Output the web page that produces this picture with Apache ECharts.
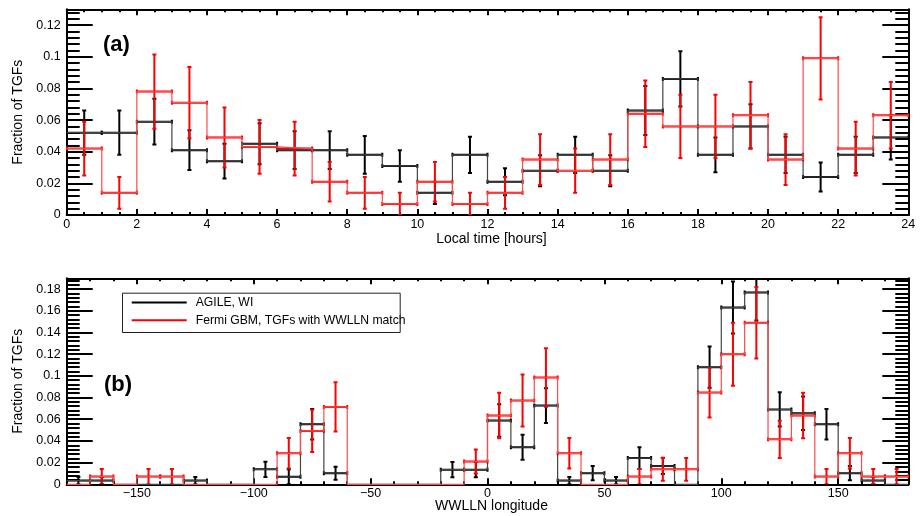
<!DOCTYPE html>
<html>
<head>
<meta charset="utf-8">
<script src="https://cdn.jsdelivr.net/npm/echarts@6/dist/echarts.min.js"></script>
<style>
  html, body { margin: 0; padding: 0; background: #fff; }
  #chart { width: 923px; height: 516px; }
</style>
</head>
<body>
<div id="chart"></div>
<script>
// panel (a): local time, 1 h bins from 0 to 24
var hourEdges = [0,1,2,3,4,5,6,7,8,9,10,11,12,13,14,15,16,17,18,19,20,21,22,23,24];
var agileLT = [0.052,0.052,0.059,0.041,0.034,0.045,0.041,0.041,0.038,0.031,0.014,0.038,
               0.021,0.028,0.038,0.028,0.066,0.086,0.038,0.056,0.038,0.024,0.038,0.049];
var agileLTErr = [0.014,0.014,0.0145,0.0125,0.011,0.013,0.012,0.012,0.012,0.010,0.007,0.0115,
                  0.0085,0.0098,0.0115,0.0098,0.0155,0.0175,0.011,0.014,0.0115,0.0092,0.0115,0.014];
var fermiLT = [0.042,0.014,0.078,0.071,0.049,0.043,0.042,0.021,0.014,0.007,0.021,0.007,
               0.014,0.035,0.028,0.035,0.064,0.056,0.056,0.063,0.035,0.099,0.042,0.063];
var fermiLTErr = [0.017,0.010,0.0235,0.0225,0.019,0.017,0.017,0.0125,0.010,0.007,0.0125,0.007,
                  0.010,0.016,0.014,0.016,0.021,0.020,0.020,0.021,0.016,0.026,0.017,0.021];

// panel (b): WWLLN longitude, 10 deg bins from -180 to 180
var lonEdges = [-180,-170,-160,-150,-140,-130,-120,-110,-100,-90,-80,-70,-60,-50,-40,-30,-20,-10,
                0,10,20,30,40,50,60,70,80,90,100,110,120,130,140,150,160,170,180];
var agileLon = [0.0034,0.0034,0,0,0,0.0034,0,0,0.0138,0.0069,0.0554,0.0103,0,0,0,0,0.0135,0.0135,
                0.0588,0.0342,0.0726,0.0034,0.0103,0.0034,0.0242,0.0169,0,0.108,0.163,0.177,0.069,0.0655,0.0554,0.0103,0.0034,0];
var agileLonErr = [0.0034,0.0034,0,0,0,0.0034,0,0,0.007,0.0069,0.014,0.006,0,0,0,0,0.007,0.007,
                   0.015,0.0115,0.016,0.0034,0.0065,0.0034,0.010,0.0075,0,0.019,0.024,0.026,0.0158,0.0155,0.014,0.0065,0.0034,0];
var fermiLon = [0,0.0071,0,0.0071,0.0071,0,0,0,0,0.0286,0.0492,0.0714,0,0,0,0,0,0.021,
                0.0634,0.0772,0.0985,0.0286,0,0,0.0071,0.0138,0.0138,0.0846,0.120,0.149,0.0415,0.0634,0.0071,0.0286,0.0071,0.0071];
var fermiLonErr = [0,0.0071,0,0.0071,0.0071,0,0,0,0,0.014,0.0195,0.0228,0,0,0,0,0,0.011,
                   0.021,0.024,0.027,0.014,0,0,0.0071,0.0105,0.0105,0.023,0.029,0.033,0.0172,0.021,0.0071,0.014,0.0071,0.0071];

var lonMajor = [-150,-100,-50,0,50,100,150];

var nameAgile = 'AGILE, WI';
var nameFermi = 'Fermi GBM, TGFs with WWLLN match';
var FONT = 'Liberation Sans';
var LINE_ICON = 'path://M0,0 L55,0 L55,2 L0,2 Z';

function stepData(edges, vals) {
  var out = [];
  for (var i = 0; i < vals.length; i++) out.push([edges[i], vals[i]]);
  out.push([edges[edges.length - 1], vals[vals.length - 1]]);
  return out;
}

function barData(edges, vals, errs) {
  var out = [];
  for (var i = 0; i < vals.length; i++) {
    if (vals[i] > 0) out.push([edges[i], edges[i + 1], vals[i], errs[i]]);
  }
  return out;
}

// horizontal bin segment with end caps + vertical error bar with caps
function renderBars(params, api) {
  var x0 = api.value(0), x1 = api.value(1), v = api.value(2), e = api.value(3);
  var xc = (x0 + x1) / 2;
  var pL = api.coord([x0, v]);
  var pR = api.coord([x1, v]);
  var pT = api.coord([xc, v + e]);
  var pB = api.coord([xc, v - e]);
  var st = { stroke: api.visual('color'), lineWidth: 2 };
  var c = 2;
  function seg(a, b, d, f) {
    return { type: 'line', shape: { x1: a, y1: b, x2: d, y2: f }, style: st };
  }
  return {
    type: 'group',
    children: [
      seg(pL[0], pL[1], pR[0], pR[1]),
      seg(pL[0], pL[1] - c, pL[0], pL[1] + c),
      seg(pR[0], pR[1] - c, pR[0], pR[1] + c),
      seg(pT[0], pT[1], pB[0], pB[1]),
      seg(pT[0] - c, pT[1], pT[0] + c, pT[1]),
      seg(pB[0] - c, pB[1], pB[0] + c, pB[1])
    ]
  };
}

var labelStyle = { color: '#000', fontSize: 12.5, fontFamily: FONT };
var nameStyle = { color: '#000', fontSize: 14, fontFamily: FONT };
var axisLine = { show: true, onZero: false, lineStyle: { color: '#000', width: 2 } };
var noLine = { show: false, onZero: false };

function minusFmt(v) { return String(v).replace('-', '\u2212'); }

function yAxes(grid, max, position, withLabels) {
  return {
    type: 'value', gridIndex: grid, position: position,
    min: 0, max: max, interval: 0.02,
    name: withLabels ? 'Fraction of TGFs' : '',
    nameLocation: 'middle', nameGap: 29, nameTextStyle: nameStyle,
    axisLine: axisLine,
    axisTick: { show: true, inside: true, length: 26, lineStyle: { color: '#000', width: 2 } },
    minorTick: { show: true, splitNumber: 5, length: 13, lineStyle: { color: '#000', width: 2 } },
    axisLabel: Object.assign({ show: withLabels, margin: 6, showMaxLabel: false }, labelStyle),
    splitLine: { show: false }
  };
}

var chart = echarts.init(document.getElementById('chart'));

var option = {
  animation: false,
  backgroundColor: '#fff',
  grid: [
    { left: 66.7, right: 14.7, top: 9.3, height: 205.7 },
    { left: 66.7, right: 14.7, top: 278.3, height: 206 }
  ],
  xAxis: [
    {
      type: 'value', gridIndex: 0, position: 'bottom', min: 0, max: 24, interval: 2,
      name: 'Local time [hours]', nameLocation: 'middle', nameGap: 15,
      nameTextStyle: Object.assign({ verticalAlign: 'top', padding: [0, 0, 0, 8] }, nameStyle),
      axisLine: axisLine,
      axisTick: { inside: true, length: 6, lineStyle: { color: '#000', width: 2 } },
      minorTick: { show: true, splitNumber: 4, length: 3, lineStyle: { color: '#000', width: 2 } },
      axisLabel: Object.assign({ margin: 3 }, labelStyle),
      splitLine: { show: false }
    },
    {
      type: 'value', gridIndex: 0, position: 'top', min: 0, max: 24, interval: 2,
      axisLine: axisLine,
      axisTick: { inside: true, length: 6, lineStyle: { color: '#000', width: 2 } },
      minorTick: { show: true, splitNumber: 4, length: 3, lineStyle: { color: '#000', width: 2 } },
      axisLabel: { show: false },
      splitLine: { show: false }
    },
    {
      type: 'value', gridIndex: 1, position: 'bottom', min: -180, max: 180, interval: 10,
      name: 'WWLLN longitude', nameLocation: 'middle', nameGap: 15,
      nameTextStyle: Object.assign({ verticalAlign: 'top', padding: [0, 0, 0, 8] }, nameStyle),
      axisLine: axisLine,
      axisTick: { inside: true, length: 3, lineStyle: { color: '#000', width: 2 } },
      axisLabel: { show: false },
      splitLine: { show: false }
    },
    {
      type: 'value', gridIndex: 1, position: 'bottom', min: -180, max: 180,
      axisLine: noLine,
      axisTick: { inside: true, length: 6, customValues: lonMajor, lineStyle: { color: '#000', width: 2 } },
      axisLabel: Object.assign({ margin: 3, customValues: lonMajor, formatter: minusFmt }, labelStyle),
      splitLine: { show: false }
    },
    {
      type: 'value', gridIndex: 1, position: 'top', min: -180, max: 180, interval: 10,
      axisLine: axisLine,
      axisTick: { inside: true, length: 3, lineStyle: { color: '#000', width: 2 } },
      axisLabel: { show: false },
      splitLine: { show: false }
    },
    {
      type: 'value', gridIndex: 1, position: 'top', min: -180, max: 180,
      axisLine: noLine,
      axisTick: { inside: true, length: 6, customValues: lonMajor, lineStyle: { color: '#000', width: 2 } },
      axisLabel: { show: false },
      splitLine: { show: false }
    }
  ],
  yAxis: [
    yAxes(0, 0.13, 'left', true),
    yAxes(0, 0.13, 'right', false),
    yAxes(1, 0.19, 'left', true),
    yAxes(1, 0.19, 'right', false)
  ],
  legend: {
    orient: 'vertical', left: 126.7, top: 291.5,
    itemWidth: 55, itemHeight: 12.5, itemGap: 5.8,
    symbolKeepAspect: true,
    textStyle: { color: '#000', fontSize: 12.2, fontFamily: FONT, padding: [0, 0, 0, 4] },
    data: [
      { name: nameAgile, icon: LINE_ICON, itemStyle: { color: '#000' } },
      { name: nameFermi, icon: LINE_ICON, itemStyle: { color: '#ff0000' } }
    ]
  },
  graphic: [
    { type: 'rect', left: 120, top: 290.7, shape: { width: 277.7, height: 39.3 },
      style: { fill: 'none', stroke: '#222', lineWidth: 1 }, z: 10 },
    { type: 'text', left: 103, top: 34,
      style: { text: '(a)', font: 'bold 22px "Liberation Sans"', fill: '#000' }, z: 10 },
    { type: 'text', left: 104, top: 374,
      style: { text: '(b)', font: 'bold 22px "Liberation Sans"', fill: '#000' }, z: 10 }
  ],
  series: [
    { name: nameAgile, type: 'line', xAxisIndex: 0, yAxisIndex: 0, step: 'end', symbol: 'none',
      lineStyle: { color: '#444', width: 1.2 }, itemStyle: { color: '#000' },
      data: stepData(hourEdges, agileLT) },
    { name: nameAgile, type: 'custom', xAxisIndex: 0, yAxisIndex: 0, clip: true,
      itemStyle: { color: '#000' }, renderItem: renderBars,
      encode: { x: [0, 1], y: 2 }, data: barData(hourEdges, agileLT, agileLTErr) },
    { name: nameFermi, type: 'line', xAxisIndex: 0, yAxisIndex: 0, step: 'end', symbol: 'none',
      lineStyle: { color: '#ff4a4a', width: 1.2 }, itemStyle: { color: '#ff0000' },
      data: stepData(hourEdges, fermiLT) },
    { name: nameFermi, type: 'custom', xAxisIndex: 0, yAxisIndex: 0, clip: true,
      itemStyle: { color: '#ff0000' }, renderItem: renderBars,
      encode: { x: [0, 1], y: 2 }, data: barData(hourEdges, fermiLT, fermiLTErr) },

    { name: nameAgile, type: 'line', xAxisIndex: 2, yAxisIndex: 2, step: 'end', symbol: 'none',
      lineStyle: { color: '#444', width: 1.2 }, itemStyle: { color: '#000' },
      data: stepData(lonEdges, agileLon) },
    { name: nameAgile, type: 'custom', xAxisIndex: 2, yAxisIndex: 2, clip: true,
      itemStyle: { color: '#000' }, renderItem: renderBars,
      encode: { x: [0, 1], y: 2 }, data: barData(lonEdges, agileLon, agileLonErr) },
    { name: nameFermi, type: 'line', xAxisIndex: 2, yAxisIndex: 2, step: 'end', symbol: 'none',
      lineStyle: { color: '#ff4a4a', width: 1.2 }, itemStyle: { color: '#ff0000' },
      data: stepData(lonEdges, fermiLon) },
    { name: nameFermi, type: 'custom', xAxisIndex: 2, yAxisIndex: 2, clip: true,
      itemStyle: { color: '#ff0000' }, renderItem: renderBars,
      encode: { x: [0, 1], y: 2 }, data: barData(lonEdges, fermiLon, fermiLonErr) }
  ]
};

chart.setOption(option);
</script>
</body>
</html>
